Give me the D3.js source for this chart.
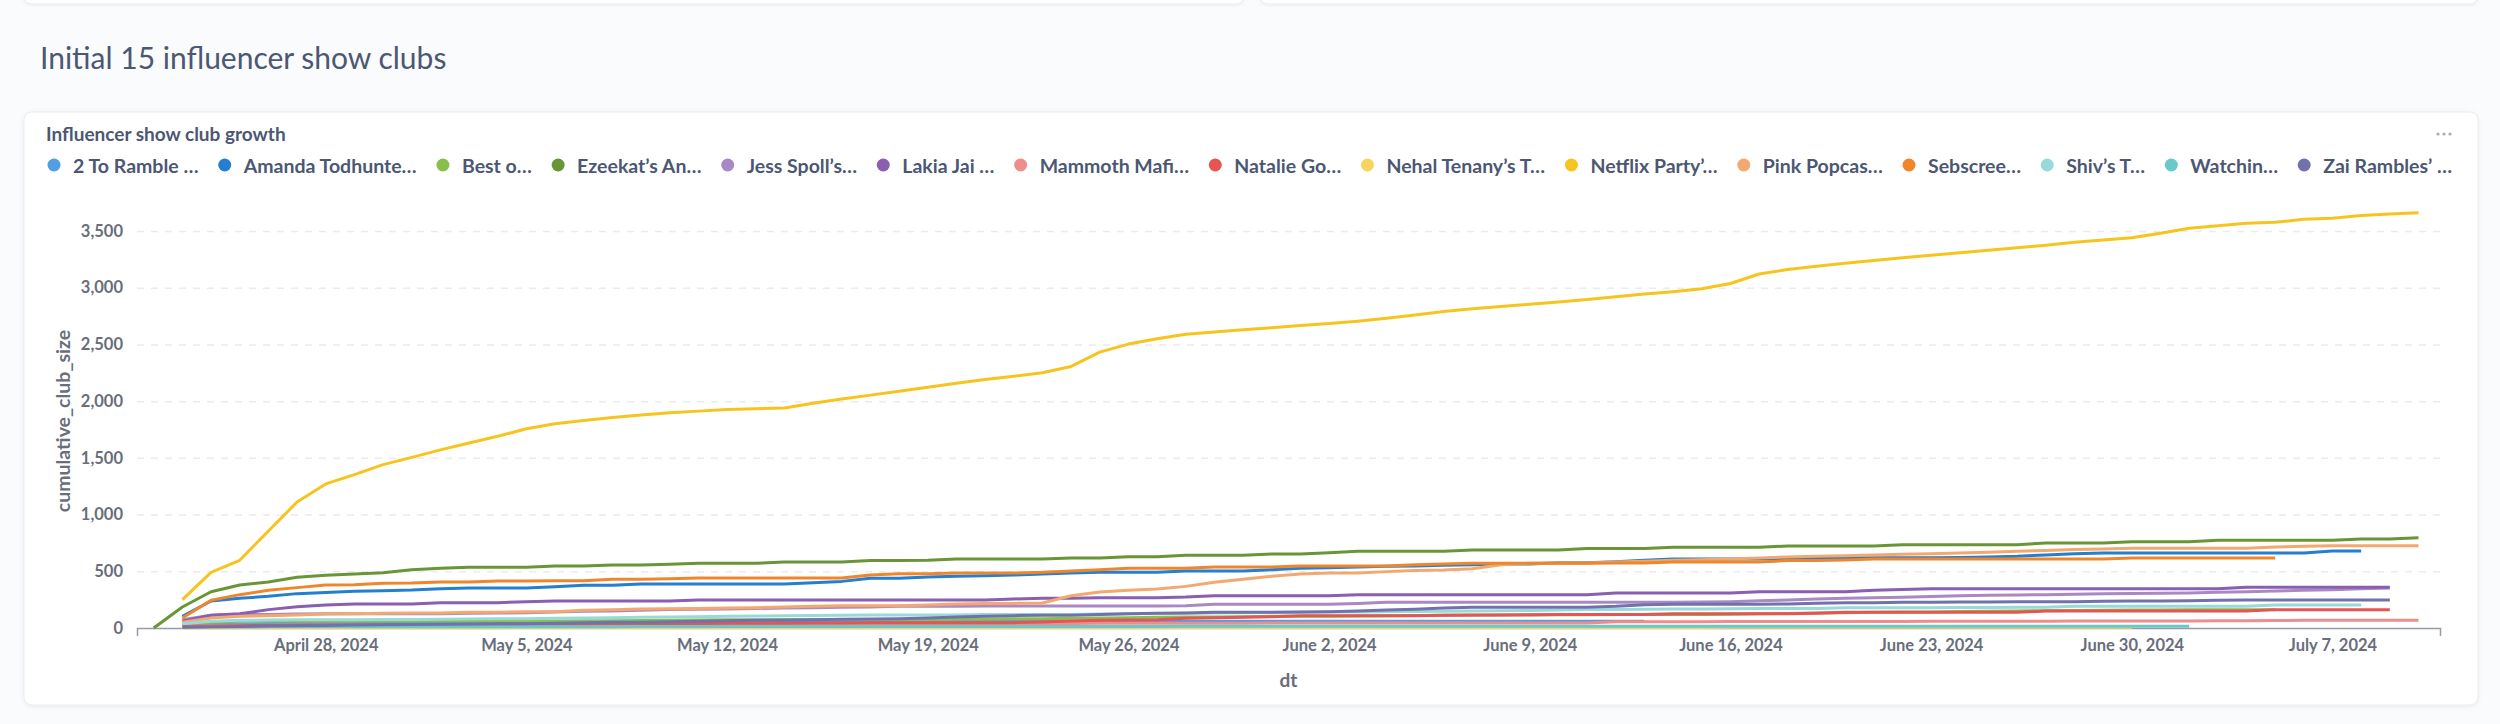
<!DOCTYPE html>
<html>
<head>
<meta charset="utf-8">
<script src="https://cdn.jsdelivr.net/npm/d3@7"></script>
<style>
  html, body { margin: 0; padding: 0; background: #F9FBFC; }
  svg { display: block; font-family: Lato, "Noto Sans", sans-serif; }
</style>
</head>
<body>
<svg width="2500" height="724"></svg>
<script>
// daily dates, April 22 -> July 10 2024
var dates = ["2024-04-22","2024-04-23","2024-04-24","2024-04-25","2024-04-26","2024-04-27","2024-04-28","2024-04-29","2024-04-30",
  "2024-05-01","2024-05-02","2024-05-03","2024-05-04","2024-05-05","2024-05-06","2024-05-07","2024-05-08","2024-05-09","2024-05-10",
  "2024-05-11","2024-05-12","2024-05-13","2024-05-14","2024-05-15","2024-05-16","2024-05-17","2024-05-18","2024-05-19","2024-05-20",
  "2024-05-21","2024-05-22","2024-05-23","2024-05-24","2024-05-25","2024-05-26","2024-05-27","2024-05-28","2024-05-29","2024-05-30","2024-05-31",
  "2024-06-01","2024-06-02","2024-06-03","2024-06-04","2024-06-05","2024-06-06","2024-06-07","2024-06-08","2024-06-09","2024-06-10",
  "2024-06-11","2024-06-12","2024-06-13","2024-06-14","2024-06-15","2024-06-16","2024-06-17","2024-06-18","2024-06-19","2024-06-20",
  "2024-06-21","2024-06-22","2024-06-23","2024-06-24","2024-06-25","2024-06-26","2024-06-27","2024-06-28","2024-06-29","2024-06-30",
  "2024-07-01","2024-07-02","2024-07-03","2024-07-04","2024-07-05","2024-07-06","2024-07-07","2024-07-08","2024-07-09","2024-07-10"];

var xTickDates = ["2024-04-28","2024-05-05","2024-05-12","2024-05-19","2024-05-26","2024-06-02",
  "2024-06-09","2024-06-16","2024-06-23","2024-06-30","2024-07-07"];
var yTicks = [0, 500, 1000, 1500, 2000, 2500, 3000, 3500];

var twoToRamble = [null,20,30,36,40,42,44,46,47,
  48,49,50,51,52,53,53,54,54,55,55,56,56,57,57,58,58,58,58,58,59,59,59,59,59,59,59,59,59,59,59,
  59,59,59,59,59,59,59,59,59,59,59,59,59,null,null,null,null,null,null,null,null,null,null,null,null,null,null,null,null,null,
  null,null,null,null,null,null,null,null,null,null];
var amandaTodhunter = [null,103,238,262,279,303,314,323,329,
  335,347,353,353,353,364,376,376,388,388,388,388,388,388,400,411,438,438,450,456,461,467,476,485,491,491,491,503,503,503,514,
  526,532,538,544,547,553,558,564,564,576,576,585,597,608,608,608,608,614,614,617,620,620,620,622,626,632,644,655,661,661,
  661,661,661,661,661,661,679,679,null,null];
var bestOf = [null,29,50,59,62,62,62,62,62,
  62,62,62,62,62,62,64,64,66,68,70,72,73,74,75,75,76,76,76,78,80,82,82,85,88,91,94,97,97,100,103,
  103,103,106,109,110,112,112,114,115,116,117,118,118,118,120,122,125,128,132,135,138,140,142,145,147,150,152,155,157,158,
  159,160,161,162,162,null,null,null,null,null];
var ezeekat = [0,185,320,379,406,447,464,476,488,
  514,526,535,535,535,547,547,555,555,561,570,570,570,582,582,582,594,594,597,608,608,608,608,617,617,629,629,641,641,641,652,
  652,664,676,676,676,676,688,688,688,688,700,700,700,711,711,711,711,723,723,723,723,735,735,735,735,735,749,749,749,761,
  761,761,773,773,773,773,773,785,785,796];
var jessSpoll = [null,73,112,120,120,123,126,126,126,
  126,126,129,132,135,140,147,150,156,162,165,168,172,176,179,182,186,191,191,191,194,194,194,194,194,194,194,197,209,209,209,
  209,209,217,226,226,226,226,226,226,226,226,226,226,226,229,232,240,247,255,262,266,270,278,285,288,291,294,298,303,305,
  307,309,315,320,326,332,338,345,353,null];
var lakiaJai = [null,59,112,126,162,188,203,212,212,
  212,223,223,223,232,238,238,238,238,238,247,247,247,247,247,247,247,247,247,247,247,256,262,262,267,267,267,273,285,285,285,
  285,285,294,294,294,294,294,294,294,294,294,309,309,309,309,309,320,320,320,320,332,340,347,347,347,347,347,347,347,347,
  347,347,347,359,359,359,359,359,359,null];
var mammothMafia = [null,20,22,24,25,26,27,28,29,
  29,30,30,31,32,32,33,33,34,34,35,35,36,36,37,37,38,38,38,39,39,40,40,40,41,41,41,42,42,42,43,
  43,43,44,44,44,44,44,44,44,44,44,56,56,56,56,57,57,57,57,58,58,58,59,59,59,60,60,61,62,62,
  62,62,63,64,66,68,68,68,68,68];
var natalieGo = [null,15,18,20,22,24,26,27,29,
  30,31,31,33,34,34,36,37,38,38,40,41,42,42,44,45,46,47,47,47,47,47,53,62,68,70,73,85,91,94,100,
  109,109,109,109,109,112,115,115,117,120,120,120,120,126,126,126,126,126,130,138,138,138,138,138,138,138,150,150,150,150,
  150,150,150,150,162,162,162,162,162,null];
var nehalTenany = [null,0,1,2,2,3,3,3,3,
  3,3,3,3,4,4,4,4,4,4,4,4,4,4,4,4,5,5,5,5,5,5,5,5,5,5,5,5,5,5,5,
  5,5,5,5,5,5,5,5,5,5,5,5,5,5,5,6,6,6,6,6,6,6,6,6,6,6,6,6,6,6,
  null,null,null,null,null,null,null,null,null,null];
var netflixParty = [null,250,491,597,855,1111,1270,1352,1440,
  1504,1570,1631,1690,1757,1800,1830,1856,1878,1898,1912,1926,1933,1940,1982,2018,2053,2088,2123,2157,2190,2220,2250,2306,2432,2503,2550,2590,2610,2630,2648,
  2667,2685,2705,2730,2760,2790,2815,2835,2854,2874,2896,2920,2945,2965,2990,3037,3121,3160,3190,3215,3240,3265,3287,3309,3331,3353,3375,3400,3420,3440,
  3480,3524,3546,3568,3577,3603,3612,3636,3650,3661];
var pinkPopcast = [null,50,88,103,109,115,123,126,129,
  132,132,138,138,144,144,156,160,168,170,173,176,179,185,191,197,197,197,203,212,215,217,220,285,317,332,344,367,403,429,456,
  476,485,485,497,506,511,523,558,570,573,573,582,588,597,602,608,617,626,632,638,644,650,655,661,668,676,684,691,696,702,
  702,702,702,702,714,720,726,726,726,726];
var sebscreen = [null,88,244,294,332,356,379,382,394,
  397,406,406,414,414,417,417,429,429,435,441,441,441,441,441,441,467,479,479,485,485,485,491,503,514,526,526,526,538,538,538,
  547,547,547,547,558,564,570,570,570,570,570,573,573,582,582,582,582,594,594,600,608,608,608,608,608,608,608,608,608,617,
  617,617,617,617,617,null,null,null,null,null];
var shivsT = [null,38,59,68,70,72,73,73,75,
  76,78,80,82,82,85,88,90,94,97,100,103,106,108,110,112,114,115,115,115,118,118,120,120,123,126,128,130,132,134,136,
  138,141,141,143,145,147,149,152,155,158,162,164,166,168,168,170,171,172,173,179,179,179,179,180,181,182,182,191,191,191,
  191,191,191,191,203,203,203,203,null,null];
var watching = [null,5,8,9,10,10,11,11,11,
  11,11,12,12,12,12,12,12,13,13,13,13,13,13,13,14,14,14,14,14,14,14,14,14,14,14,14,15,15,15,15,
  15,15,15,15,15,15,15,15,15,15,15,15,15,15,15,15,15,15,15,15,15,15,15,15,15,15,15,15,15,15,
  15,15,null,null,null,null,null,null,null,null];
var zaiRambles = [null,6,10,14,17,20,23,27,29,
  31,33,36,38,38,41,46,50,50,55,60,64,68,68,72,77,79,82,88,97,103,109,112,112,120,126,129,132,138,138,138,
  141,144,150,159,165,176,182,182,182,182,182,191,206,209,209,209,209,212,218,223,223,226,226,229,229,232,232,232,235,238,
  238,241,244,247,247,247,247,247,247,null];

var seriesNames = ["2 To Ramble …","Amanda Todhunte…","Best o…","Ezeekat’s An…","Jess Spoll’s…","Lakia Jai …",
  "Mammoth Mafi…","Natalie Go…","Nehal Tenany’s T…","Netflix Party’…","Pink Popcas…","Sebscree…","Shiv’s T…",
  "Watchin…","Zai Rambles’ …"];
var seriesValues = [twoToRamble, amandaTodhunter, bestOf, ezeekat, jessSpoll, lakiaJai, mammothMafia, natalieGo,
  nehalTenany, netflixParty, pinkPopcast, sebscreen, shivsT, watching, zaiRambles];
var seriesColors = ["#509EE3","#227FD2","#88BF4D","#689636","#A989C5","#8A5EB0","#EF8C8C","#E75454",
  "#F9D45C","#F7C41F","#F2A86F","#F0862C","#98D9D9","#69C8C8","#7172AD"];

var svg = d3.select("svg");
var textDark = "#4C5773", axisText = "#696E7B";

var plotLeft = 137, plotRight = 2440, plotBottom = 628, plotTopTick = 231;

var defs = svg.append("defs");
var sh = defs.append("filter").attr("id", "shadow").attr("x", "-5%").attr("y", "-5%").attr("width", "110%").attr("height", "115%");
sh.append("feDropShadow").attr("dx", 0).attr("dy", 1).attr("stdDeviation", 2)
  .attr("flood-color", "#000").attr("flood-opacity", 0.07);

// cards
svg.append("rect").attr("x", 24).attr("y", -20).attr("width", 1220).attr("height", 24).attr("rx", 8)
  .attr("fill", "#fff").attr("stroke", "#E9ECEF").attr("filter", "url(#shadow)");
svg.append("rect").attr("x", 1260).attr("y", -20).attr("width", 1218).attr("height", 24).attr("rx", 8)
  .attr("fill", "#fff").attr("stroke", "#E9ECEF").attr("filter", "url(#shadow)");
svg.append("rect").attr("x", 24).attr("y", 112).attr("width", 2454).attr("height", 593).attr("rx", 8)
  .attr("fill", "#fff").attr("stroke", "#E9ECEF").attr("filter", "url(#shadow)");

svg.append("text").attr("x", 40).attr("y", 69).attr("font-size", 30).attr("fill", textDark)
  .text("Initial 15 influencer show clubs");
svg.append("text").attr("x", 46).attr("y", 141).attr("font-size", 19).attr("font-weight", 700)
  .attr("fill", textDark).text("Influencer show club growth");

// menu dots
[2438, 2444, 2450].forEach(function(cx){
  svg.append("circle").attr("cx", cx).attr("cy", 134).attr("r", 1.6).attr("fill", "#A7ADBA");
});

// legend: items spread between the first dot and the right end of the last label
var legend = svg.append("g");
var legendStart = 54, legendEnd = 2452, dotToText = 19;
var items = seriesNames.map(function(name, i){
  var g = legend.append("g");
  g.append("circle").attr("r", 6.5).attr("cy", 165).attr("fill", seriesColors[i]);
  var t = g.append("text").attr("y", 172.5).attr("font-size", 19.5)
    .attr("font-weight", 700).attr("fill", textDark).text(name);
  return { g: g, w: t.node().getComputedTextLength() };
});
var used = d3.sum(items, function(d){ return d.w + dotToText; });
var gap = (legendEnd - legendStart - used) / (items.length - 1);
var lx = legendStart;
items.forEach(function(it){
  it.g.select("circle").attr("cx", lx);
  it.g.select("text").attr("x", lx + dotToText);
  lx = lx + dotToText + it.w + gap;
});

// scales
var parse = d3.utcParse("%Y-%m-%d");
var xs = dates.map(parse);
var x = d3.scaleUtc()
  .domain([d3.utcHour.offset(xs[0], -14), d3.utcHour.offset(xs[xs.length - 1], 18)])
  .range([plotLeft, plotRight]);
var y = d3.scaleLinear().domain([0, 3500]).range([plotBottom, plotTopTick]);

// gridlines
var grid = svg.append("g").attr("transform", "translate(" + plotLeft + ",0)")
  .call(d3.axisLeft(y).tickValues(yTicks.filter(function(d){ return d > 0; }))
    .tickSize(-(plotRight - plotLeft)).tickFormat(""));
grid.select(".domain").remove();
grid.selectAll("line").attr("stroke", "#E8EBEF").attr("stroke-width", 1.5).attr("stroke-dasharray", "7,7");

// y axis
var yAxis = svg.append("g").attr("transform", "translate(" + plotLeft + ",0)")
  .call(d3.axisLeft(y).tickValues(yTicks).tickSize(0).tickPadding(14).tickFormat(d3.format(",")));
yAxis.select(".domain").remove();
yAxis.selectAll("text").attr("font-size", 16.5).attr("font-weight", 700).attr("fill", axisText)
  .attr("font-family", "Lato");

// x axis
var xAxis = svg.append("g").attr("transform", "translate(0," + plotBottom + ")")
  .call(d3.axisBottom(x).tickValues(xTickDates.map(parse)).tickSizeInner(0).tickSizeOuter(8)
    .tickPadding(11).tickFormat(d3.utcFormat("%B %-d, %Y")));
xAxis.select(".domain").attr("stroke", "#949BAA").attr("stroke-width", 1.5);
xAxis.selectAll("text").attr("font-size", 16.5).attr("font-weight", 700).attr("fill", axisText)
  .attr("font-family", "Lato");

svg.append("text").attr("x", (plotLeft + plotRight) / 2).attr("y", 687).attr("text-anchor", "middle")
  .attr("font-size", 19).attr("font-weight", 700).attr("fill", axisText).text("dt");
svg.append("text").attr("transform", "translate(70,421) rotate(-90)").attr("text-anchor", "middle")
  .attr("font-size", 19.5).attr("font-weight", 700).attr("fill", axisText).text("cumulative_club_size");

// lines
var line = d3.line()
  .defined(function(d){ return d != null; })
  .x(function(d, i){ return x(xs[i]); })
  .y(function(d){ return y(d); });

var lines = svg.append("g");
seriesValues.forEach(function(vals, i){
  lines.append("path").attr("d", line(vals)).attr("fill", "none")
    .attr("stroke", seriesColors[i]).attr("stroke-width", 3)
    .attr("stroke-linejoin", "round").attr("stroke-linecap", "butt");
});
</script>
</body>
</html>
